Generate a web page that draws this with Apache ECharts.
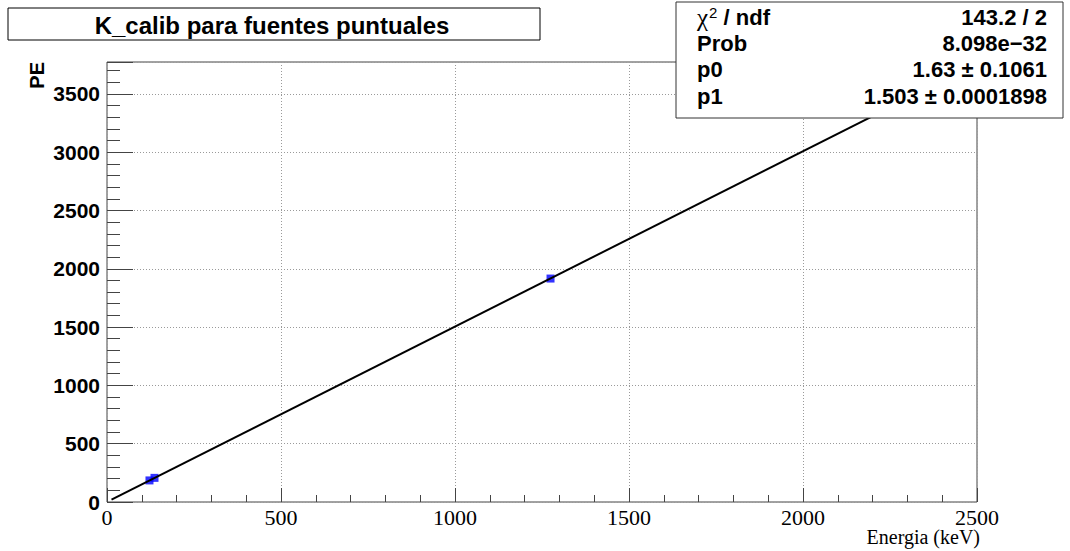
<!DOCTYPE html>
<html>
<head>
<meta charset="utf-8">
<script src="https://cdn.jsdelivr.net/npm/echarts@6/dist/echarts.min.js"></script>
<style>
  html, body { margin: 0; padding: 0; background: #ffffff; }
  #chart { width: 1070px; height: 551px; }
</style>
</head>
<body>
<div id="chart"></div>
<script>
// Calibration points: source energy (keV) vs photoelectrons
const energies = [122.06, 136.47, 1274.5];
const peValues = [185, 207, 1916];

// Linear fit parameters  PE = p0 + p1 * E
const fitP0 = 1.63;
const fitP1 = 1.503;
const fitRange = [13, 2500];

// Axis ranges and tick steps
const xRange = [0, 2500];
const yRange = [0, 3773];
const xMajorStep = 500;
const yMajorStep = 500;
const yMinorStep = 100;

// Fit statistics box
const statNames = ['Prob', 'p0', 'p1'];
const statValues = ['143.2 / 2', '8.098e\u221232', '1.63 \u00b1 0.1061', '1.503 \u00b1 0.0001898'];

const titleText = 'K_calib para fuentes puntuales';
const xTitle = 'Energia (keV)';
const yTitle = 'PE';

const fitLine = fitRange.map(e => [e, fitP0 + fitP1 * e]);
const points = energies.map((e, i) => [e, peValues[i]]);

const GRID = { left: 107, top: 62, width: 870, height: 440 };
const sans = 'Liberation Sans, Arial, Helvetica, sans-serif';
const serif = 'Liberation Serif, Times New Roman, serif';
const frameColor = '#444';
const gridLine = { color: '#9a9a9a', width: 1, type: [1, 2] };

const chart = echarts.init(document.getElementById('chart'), null, { renderer: 'svg' });

const statsX = 676, statsY = 2, statsW = 387, statsH = 116;
const rowY = [17, 43, 69, 96];
const statTexts = [];
statTexts.push({
  type: 'text', z: 20, x: 697, y: rowY[0],
  style: {
    text: '{chi|\u03c7}{sup|2}{n| / ndf}',
    verticalAlign: 'middle', align: 'left',
    rich: {
      chi: { fontFamily: serif, fontSize: 25, fill: '#000' },
      sup: { fontFamily: sans, fontSize: 15, fill: '#000', verticalAlign: 'top', padding: [0, 0, 10, 1] },
      n: { fontFamily: sans, fontSize: 22, fontWeight: 'bold', fill: '#000' }
    }
  }
});
statNames.forEach((n, i) => {
  statTexts.push({
    type: 'text', z: 20, x: 697, y: rowY[i + 1],
    style: { text: n, font: 'bold 22px ' + sans, fill: '#000', align: 'left', verticalAlign: 'middle' }
  });
});
statValues.forEach((v, i) => {
  statTexts.push({
    type: 'text', z: 20, x: 1047, y: rowY[i],
    style: { text: v, font: 'bold 22px ' + sans, fill: '#000', align: 'right', verticalAlign: 'middle' }
  });
});

chart.setOption({
  animation: false,
  backgroundColor: '#ffffff',
  grid: Object.assign({ show: true, borderColor: frameColor, borderWidth: 1, backgroundColor: 'transparent', containLabel: false }, GRID),
  xAxis: {
    type: 'value', min: xRange[0], max: xRange[1], interval: xMajorStep,
    axisLine: { show: false },
    axisTick: { show: true, inside: true, length: 14, lineStyle: { color: frameColor, width: 1 } },
    minorTick: { show: true, splitNumber: 5, length: 7, lineStyle: { color: frameColor, width: 1 } },
    axisLabel: {
      show: true, margin: 4, fontFamily: serif, fontSize: 22, color: '#000', verticalAlign: 'top',
      formatter: v => String(v)
    },
    splitLine: { show: true, lineStyle: gridLine },
    minorSplitLine: { show: false }
  },
  yAxis: [
    {
      type: 'value', min: yRange[0], max: yRange[1], interval: yMajorStep, position: 'left',
      axisLine: { show: false },
      axisTick: { show: true, inside: true, length: 26, lineStyle: { color: frameColor, width: 1 } },
      axisLabel: {
        show: true, margin: 7, fontFamily: sans, fontWeight: 'bold', fontSize: 21, color: '#000',
        formatter: v => (v % yMajorStep === 0 ? String(v) : '')
      },
      splitLine: { show: true, lineStyle: gridLine }
    },
    {
      type: 'value', min: yRange[0], max: yRange[1], interval: yMinorStep, position: 'left', offset: 0,
      axisLine: { show: false },
      axisTick: { show: true, inside: true, length: 13, lineStyle: { color: frameColor, width: 1 } },
      axisLabel: { show: false },
      splitLine: { show: false }
    }
  ],
  series: [
    {
      type: 'scatter', name: 'datos', data: points, yAxisIndex: 0,
      symbol: 'rect', symbolSize: 8, z: 2,
      itemStyle: { color: '#0000ff' }
    },
    {
      type: 'line', name: 'ajuste', data: fitLine, yAxisIndex: 0,
      showSymbol: false, symbol: 'none', z: 3,
      lineStyle: { color: '#000', width: 2 }
    }
  ],
  graphic: [
    {
      type: 'rect', z: 10,
      shape: { x: 8, y: 8, width: 532, height: 32 },
      style: { fill: '#fff', stroke: '#000', lineWidth: 1 }
    },
    {
      type: 'text', z: 11, x: 272, y: 25,
      style: { text: titleText, font: 'bold 24px ' + sans, fill: '#000', align: 'center', verticalAlign: 'middle' }
    },
    {
      type: 'rect', z: 19,
      shape: { x: statsX, y: statsY, width: statsW, height: statsH },
      style: { fill: '#fff', stroke: '#333', lineWidth: 1 }
    },
    ...statTexts,
    {
      type: 'text', z: 11, x: 980, y: 547,
      style: { text: xTitle, font: '20px ' + serif, fill: '#000', align: 'right', verticalAlign: 'bottom' }
    },
    {
      type: 'text', z: 11, x: 37, y: 62, rotation: Math.PI / 2,
      style: { text: yTitle, font: 'bold 20px ' + sans, fill: '#000', align: 'right', verticalAlign: 'middle' }
    }
  ]
});
</script>
</body>
</html>
